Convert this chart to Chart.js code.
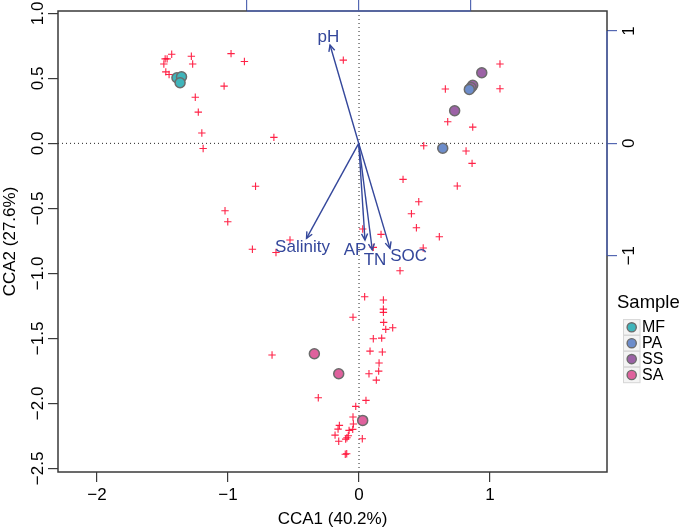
<!DOCTYPE html>
<html>
<head>
<meta charset="utf-8">
<script src="https://cdn.jsdelivr.net/npm/chart.js@4.4.1/dist/chart.umd.min.js"></script>
<style>
  html, body { margin: 0; padding: 0; background: #fff; }
  #wrap { width: 685px; height: 530px; }
</style>
</head>
<body>
<div id="wrap"><canvas id="cca" width="685" height="530"></canvas></div>
<script>
// site scores per sample group (CCA1, CCA2)
const mfX = [-1.390, -1.355, -1.366];
const mfY = [0.505, 0.512, 0.466];
const paX = [0.842, 0.639];
const paY = [0.415, -0.038];
const ssX = [0.937, 0.868, 0.855, 0.730];
const ssY = [0.543, 0.446, 0.430, 0.251];
const saX = [-0.341, -0.155, 0.028];
const saY = [-1.618, -1.772, -2.131];

// species scores (red crosses)
const speciesX = [
    -1.430, -1.480, -1.465, -1.490, -1.475, -1.450, -1.280, -1.270, -0.977, -0.875,
    -1.030, -1.250, -1.227, -1.200, -1.190, -0.650, -0.120,
    -0.790, -1.023, -1.002, -0.814, -0.527, -0.634,
    1.076, 0.659, 0.837, 1.076, 0.677, 0.868, 0.494, 0.817, 0.863, 0.336,
    0.750, 0.456, 0.400, 0.438, 0.613, 0.028, 0.168, 0.109, 0.490, 0.313,
    0.043, 0.186, 0.186, 0.186, -0.046, 0.188, 0.204, 0.257, 0.109, 0.173,
    0.084, 0.178, 0.153, 0.150, 0.076, 0.132, -0.664, -0.311, 0.053, -0.025,
    -0.046, -0.043, -0.150, -0.160, -0.076, -0.048, -0.183, -0.082, -0.092, -0.102,
    -0.155, 0.025, -0.105, -0.094,
];
const speciesY = [
    0.685, 0.650, 0.650, 0.610, 0.550, 0.530, 0.670, 0.610, 0.690, 0.630,
    0.440, 0.354, 0.240, 0.080, -0.040, 0.046, 0.640,
    -0.330, -0.518, -0.603, -0.815, -0.744, -0.840,
    0.610, 0.418, 0.405, 0.420, 0.166, 0.125, -0.018, -0.059, -0.154, -0.277,
    -0.328, -0.449, -0.541, -0.649, -0.718, -0.659, -0.700, -0.800, -0.805, -0.980,
    -1.180, -1.205, -1.275, -1.300, -1.338, -1.377, -1.431, -1.418, -1.503, -1.498,
    -1.598, -1.605, -1.690, -1.752, -1.772, -1.821, -1.628, -1.957, -1.977, -2.023,
    -2.105, -2.159, -2.169, -2.198, -2.208, -2.200, -2.244, -2.249, -2.265, -2.275,
    -2.292, -2.272, -2.392, -2.388,
];

// environmental vectors (biplot scale, top/right axes)
const envNames = ['pH', 'Salinity', 'AP', 'TN', 'SOC'];
const envX = [-0.256, -0.466, 0.056, 0.121, 0.279];
const envY = [0.875, -0.846, -0.861, -0.950, -0.935];
const envLabelX = [-0.270, -0.502, -0.033, 0.146, 0.445];
const envLabelY = [0.946, -0.923, -0.950, -1.039, -1.008];

const xTicks = [-2, -1, 0, 1];
const yTicks = [1.0, 0.5, 0.0, -0.5, -1.0, -1.5, -2.0, -2.5];
const arrowTicks = [-1, 0, 1];

const groupNames = ['MF', 'PA', 'SS', 'SA'];
const groupColors = ['#3fb5bb', '#6d8dcb', '#9c62a6', '#df619d'];

const FONT = '"Liberation Sans", Arial, Helvetica, sans-serif';
const ARROW_BLUE = '#34479b';
const AXIS_BLUE = '#5468b2';
const INK = '#3a3a3a';

const minus = s => s.replace('-', '\u2212');
const pairs = (xs, ys) => xs.map((x, i) => ({ x, y: ys[i] }));
const setTicks = values => scale => { scale.ticks = values.map(v => ({ value: v })); };

const datasets = [];

envNames.forEach((name, i) => {
    datasets.push({
        label: name,
        data: [{ x: 0, y: 0 }, { x: envX[i], y: envY[i] }],
        xAxisID: 'x2',
        yAxisID: 'y2',
        showLine: true,
        borderColor: ARROW_BLUE,
        borderWidth: 1.4,
        pointRadius: 0,
        order: 0,
    });
});

const groupXs = [mfX, paX, ssX, saX];
const groupYs = [mfY, paY, ssY, saY];
groupNames.forEach((name, i) => {
    datasets.push({
        label: name,
        data: pairs(groupXs[i], groupYs[i]),
        pointRadius: 5,
        backgroundColor: groupColors[i],
        borderColor: '#6b6b6b',
        borderWidth: 1.5,
        order: 1,
    });
});

datasets.push({
    label: 'species',
    data: pairs(speciesX, speciesY),
    pointStyle: 'cross',
    pointRadius: 3.7,
    borderColor: 'rgba(255, 10, 50, 0.9)',
    borderWidth: 1.1,
    order: 2,
});

const overlay = {
    id: 'overlay',
    beforeDatasetsDraw(chart) {
        const { ctx, chartArea: a, scales } = chart;
        const x0 = scales.x.getPixelForValue(0);
        const y0 = scales.y.getPixelForValue(0);
        ctx.save();
        ctx.setLineDash([1, 3]);
        ctx.strokeStyle = '#222';
        ctx.lineWidth = 1;
        ctx.beginPath();
        ctx.moveTo(x0, a.top);
        ctx.lineTo(x0, a.bottom);
        ctx.moveTo(a.left, y0);
        ctx.lineTo(a.right, y0);
        ctx.stroke();
        ctx.restore();
    },
    afterDatasetsDraw(chart) {
        const { ctx, scales } = chart;
        const sx = scales.x2, sy = scales.y2;
        const ox = sx.getPixelForValue(0), oy = sy.getPixelForValue(0);
        ctx.save();
        ctx.strokeStyle = ARROW_BLUE;
        ctx.fillStyle = ARROW_BLUE;
        ctx.lineWidth = 1.4;
        ctx.font = '17px ' + FONT;
        ctx.textAlign = 'center';
        ctx.textBaseline = 'middle';
        envNames.forEach((name, i) => {
            const tx = sx.getPixelForValue(envX[i]);
            const ty = sy.getPixelForValue(envY[i]);
            const ang = Math.atan2(ty - oy, tx - ox);
            const len = 7, spread = Math.PI / 7;
            ctx.beginPath();
            ctx.moveTo(tx - len * Math.cos(ang - spread), ty - len * Math.sin(ang - spread));
            ctx.lineTo(tx, ty);
            ctx.lineTo(tx - len * Math.cos(ang + spread), ty - len * Math.sin(ang + spread));
            ctx.stroke();
            ctx.fillText(name, sx.getPixelForValue(envLabelX[i]), sy.getPixelForValue(envLabelY[i]));
        });
        ctx.restore();
    },
    afterDraw(chart) {
        const { ctx, chartArea: a, scales } = chart;
        ctx.save();

        // plot box
        ctx.strokeStyle = INK;
        ctx.lineWidth = 1.5;
        ctx.strokeRect(a.left, a.top, a.right - a.left, a.bottom - a.top);

        // biplot axes (only between -1 and 1)
        ctx.strokeStyle = AXIS_BLUE;
        ctx.beginPath();
        ctx.moveTo(scales.x2.getPixelForValue(-1), a.top);
        ctx.lineTo(scales.x2.getPixelForValue(1), a.top);
        ctx.moveTo(a.right, scales.y2.getPixelForValue(1));
        ctx.lineTo(a.right, scales.y2.getPixelForValue(-1));
        ctx.stroke();

        // rotated tick labels (R style)
        ctx.fillStyle = '#000';
        ctx.font = '17px ' + FONT;
        ctx.textAlign = 'center';
        ctx.textBaseline = 'middle';
        const rotated = (text, x, y) => {
            ctx.save();
            ctx.translate(x, y);
            ctx.rotate(-Math.PI / 2);
            ctx.fillText(text, 0, 0);
            ctx.restore();
        };
        yTicks.forEach(v => rotated(minus(v.toFixed(1)), 38, scales.y.getPixelForValue(v)));
        arrowTicks.forEach(v => rotated(minus(String(v)), 629, scales.y2.getPixelForValue(v)));

        // legend
        ctx.textAlign = 'left';
        ctx.font = '18.5px ' + FONT;
        ctx.fillText('Sample', 617, 303);
        ctx.font = '16px ' + FONT;
        groupNames.forEach((name, i) => {
            const cy = 327.3 + i * 15.9;
            ctx.fillStyle = '#f4f4f4';
            ctx.fillRect(623.5, cy - 7.7, 16.5, 15.4);
            ctx.strokeStyle = '#d6d6d6';
            ctx.lineWidth = 1;
            ctx.strokeRect(623.5, cy - 7.7, 16.5, 15.4);
            ctx.beginPath();
            ctx.arc(631.7, cy, 4.6, 0, Math.PI * 2);
            ctx.fillStyle = groupColors[i];
            ctx.fill();
            ctx.strokeStyle = '#6b6b6b';
            ctx.lineWidth = 1.4;
            ctx.stroke();
            ctx.fillStyle = '#000';
            ctx.fillText(name, 642, cy + 0.5);
        });
        ctx.restore();
    },
};

new Chart(document.getElementById('cca'), {
    type: 'scatter',
    data: { datasets },
    options: {
        responsive: false,
        animation: false,
        events: [],
        layout: { padding: 0 },
        plugins: {
            legend: { display: false },
            tooltip: { enabled: false },
        },
        scales: {
            x: {
                type: 'linear',
                position: 'bottom',
                min: -2.298,
                max: 1.893,
                afterBuildTicks: setTicks(xTicks),
                afterFit: s => { s.height = 58; },
                border: { display: false },
                grid: { drawOnChartArea: false, drawTicks: true, tickLength: 10, color: INK, lineWidth: 1.2 },
                ticks: {
                    padding: 3,
                    color: '#000',
                    font: { family: FONT, size: 17 },
                    callback: v => minus(String(v)),
                },
                title: {
                    display: true,
                    text: 'CCA1 (40.2%)',
                    color: '#000',
                    font: { family: FONT, size: 17 },
                    padding: 0,
                },
            },
            y: {
                type: 'linear',
                position: 'left',
                min: -2.528,
                max: 1.018,
                afterBuildTicks: setTicks(yTicks),
                afterFit: s => { s.width = 58; },
                border: { display: false },
                grid: { drawOnChartArea: false, drawTicks: true, tickLength: 10, color: INK, lineWidth: 1.2 },
                ticks: { display: false },
                title: {
                    display: true,
                    text: 'CCA2 (27.6%)',
                    color: '#000',
                    font: { family: FONT, size: 17 },
                    padding: 0,
                },
            },
            x2: {
                type: 'linear',
                position: 'top',
                min: -2.685,
                max: 2.217,
                afterBuildTicks: setTicks(arrowTicks),
                afterFit: s => { s.height = 11; },
                border: { display: false },
                grid: { drawOnChartArea: false, drawTicks: true, tickLength: 11, color: AXIS_BLUE, lineWidth: 1.2 },
                ticks: { display: false },
            },
            y2: {
                type: 'linear',
                position: 'right',
                min: -2.926,
                max: 1.1776,
                afterBuildTicks: setTicks(arrowTicks),
                afterFit: s => { s.width = 78; },
                border: { display: false },
                grid: { drawOnChartArea: false, drawTicks: true, tickLength: 10, color: AXIS_BLUE, lineWidth: 1.2 },
                ticks: { display: false },
            },
        },
    },
    plugins: [overlay],
});
</script>
</body>
</html>
